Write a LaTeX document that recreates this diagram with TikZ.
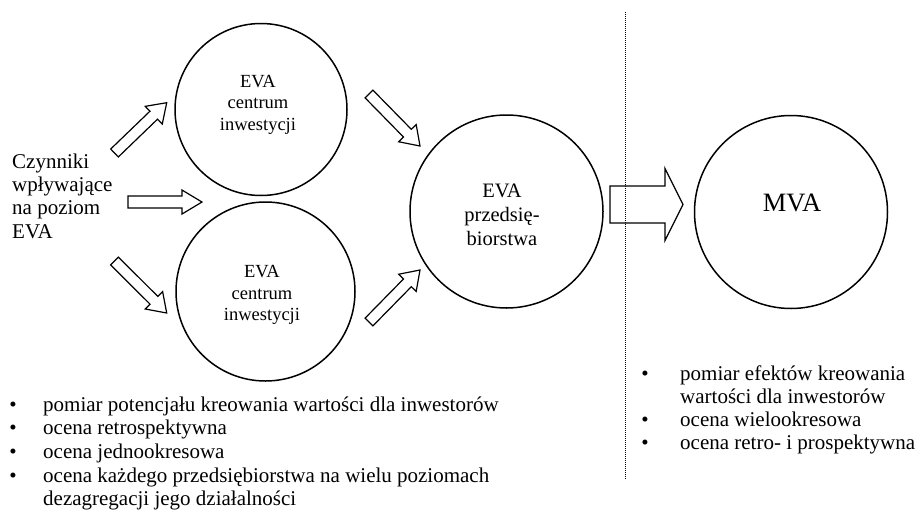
\documentclass[tikz,border=0pt]{standalone}
\usepackage{fontspec}
\setmainfont{Liberation Serif}
\usetikzlibrary{calc}
\tikzset{
  circ/.style={circle, draw, line width=1.5pt, inner sep=0pt},
  blockarr/.style={draw, line width=1.2pt, line join=miter},
  ctext/.style={align=center, inner sep=0pt, font=\fontsize{18.5}{21.5}\selectfont},
  ltext/.style={inner sep=0pt, anchor=base west, font=\fontsize{21}{23.5}\selectfont},
  bulletmark/.style={inner sep=0pt, anchor=base, font=\fontsize{21}{23.5}\selectfont},
  sep/.style={dash pattern=on 1pt off 1pt, line width=1pt}
}
% #1 tail, #2 tip, #3 shaft half width, #4 head half width, #5 head length
\newcommand{\blockarrow}[5]{%
  \coordinate (#1-hb) at ($(#2)!#5!(#1)$);
  \draw[blockarr] ($(#1)!#3!90:(#2)$) -- ($(#1-hb)!#3!90:(#2)$) -- ($(#1-hb)!#4!90:(#2)$) -- (#2)
     -- ($(#1-hb)!#4!-90:(#2)$) -- ($(#1-hb)!#3!-90:(#2)$) -- ($(#1)!#3!-90:(#2)$) -- cycle;
}
\begin{document}
\begin{tikzpicture}[x=1pt,y=-1pt]
\useasboundingbox (0,0) rectangle (918,517);

% circles
\node[circ, minimum size=172pt] (ctop) at (261,109.5) {};
\node[circ, minimum size=179pt] (cbot) at (265.5,291.5) {};
\node[circ, minimum size=193pt] (cent) at (506.5,211.5) {};
\node[circ, minimum size=193pt] (cmva) at (791,212) {};

% circle texts
\node[ctext] (ttop) at (258,104.5) {EVA\\centrum\\inwestycji};
\node[ctext] (tbot) at (262,295) {EVA\\centrum\\inwestycji};
\node[ctext, font=\fontsize{20.5}{24}\selectfont] (tent) at (502,215) {EVA\\przedsię-\\biorstwa};
\node[inner sep=0pt, font=\fontsize{26.5}{30}\selectfont] (tmva) at (792,203.2) {MVA};

% left text
\node[inner sep=0pt, anchor=west, align=left, font=\fontsize{21}{23.4}\selectfont] (factors) at (12,196) {Czynniki\\wpływające\\na poziom\\EVA};

% block arrows
\coordinate (a1s) at (114.5,153);  \coordinate (a1e) at (166.7,102.7);
\coordinate (a2s) at (128,202);    \coordinate (a2e) at (202,202);
\coordinate (a3s) at (114.5,261);  \coordinate (a3e) at (166.7,313);
\coordinate (a4s) at (369,94);     \coordinate (a4e) at (420,146);
\coordinate (a5s) at (369,322);    \coordinate (a5e) at (420,270);
\coordinate (a6s) at (610,204.5);  \coordinate (a6e) at (683,204.5);
\blockarrow{a1s}{a1e}{5.5pt}{12.3pt}{18pt}
\blockarrow{a2s}{a2e}{6pt}{12pt}{20pt}
\blockarrow{a3s}{a3e}{5.5pt}{12.3pt}{18pt}
\blockarrow{a4s}{a4e}{5.5pt}{12.3pt}{18pt}
\blockarrow{a5s}{a5e}{5.5pt}{12.3pt}{18pt}
\blockarrow{a6s}{a6e}{18.5pt}{36pt}{18pt}

% separator
\coordinate (dtop) at (625,12);
\coordinate (dbot) at (625,480);
\draw[sep] (dtop) -- (dbot);

% left list
\node[bulletmark] (lb1) at (13,411) {•};
\node[ltext] (l1) at (43,411) {pomiar potencjału kreowania wartości dla inwestorów};
\node[bulletmark] (lb2) at (13,434) {•};
\node[ltext] (l2) at (43,434) {ocena retrospektywna};
\node[bulletmark] (lb3) at (13,458) {•};
\node[ltext] (l3) at (43,458) {ocena jednookresowa};
\node[bulletmark] (lb4) at (13,482) {•};
\node[ltext] (l4) at (43,482) {ocena każdego przedsiębiorstwa na wielu poziomach};
\node[ltext] (l5) at (43,505) {dezagregacji jego działalności};

% right list
\node[bulletmark] (rb1) at (645,380) {•};
\node[ltext] (r1) at (680,380) {pomiar efektów kreowania};
\node[ltext] (r2) at (680,403) {wartości dla inwestorów};
\node[bulletmark] (rb3) at (645,426) {•};
\node[ltext] (r3) at (680,426) {ocena wielookresowa};
\node[bulletmark] (rb4) at (645,449) {•};
\node[ltext] (r4) at (680,449) {ocena retro- i prospektywna};
\end{tikzpicture}
\end{document}
